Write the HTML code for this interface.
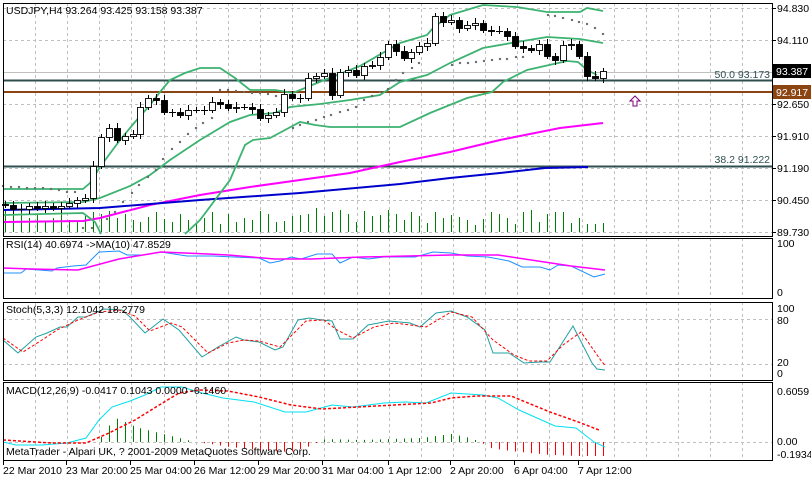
<!DOCTYPE html>
<html><head><meta charset="utf-8"><style>
html,body{margin:0;padding:0;background:#fff;}
svg{display:block;font-family:"Liberation Sans",sans-serif;font-size:10.5px;}
</style></head><body>
<svg id="s" width="811" height="478" xmlns="http://www.w3.org/2000/svg"></svg>
<script>
const s=document.getElementById('s');let H='';
function pl(pts,c,w,d){H+=`<polyline fill="none" stroke="${c}" stroke-width="${w}" ${d?'stroke-dasharray="'+d+'"':''} points="${pts.map(p=>p.join(',')).join(' ')}"/>`;}
function ln(x1,y1,x2,y2,c,w,d){H+=`<line x1="${x1}" y1="${y1}" x2="${x2}" y2="${y2}" stroke="${c}" stroke-width="${w||1}" ${d?'stroke-dasharray="'+d+'"':''}/>`;}
function tx(x,y,t,c,a){H+=`<text x="${x}" y="${y}" fill="${c||'#000'}" ${a?'text-anchor="'+a+'"':''}>${t}</text>`;}
function interp(pts,x){for(let i=0;i<pts.length-1;i++){if(x>=pts[i][0]&&x<=pts[i+1][0]){const t=(x-pts[i][0])/(pts[i+1][0]-pts[i][0]);return pts[i][1]+t*(pts[i+1][1]-pts[i][1]);}}return null;}
const R=772;
const panels=[[3,236],[238,298],[302,380],[382,460]];
for(const [t,b] of panels){for(let k=0;k<23;k++){const x=Math.round(35+32.15*k)+0.5;ln(x,t,x,b,'#c0c0c0',1,'3,3');}}
for(let y=8;y<=232;y+=32){ln(3,y+0.5,R,y+0.5,'#c0c0c0',1,'3,3');}
ln(3,319.5,R,319.5,'#c0c0c0',1,'3,3');ln(3,364.5,R,364.5,'#c0c0c0',1,'3,3');
ln(3,442.5,R,442.5,'#c0c0c0',1,'3,3');
const vol=[210,215,212,218,214,222,218,213,220,222,216,212,214,211,218,214,220,222,217,212,219,222,214,220,224,218,212,224,214,222,218,220,211,214,222,221,216,215,214,208,216,212,210,214,222,211,216,215,210,214,220,212,216,223,212,218,215,217,220,225,219,212,214,218,224,212,210,222,214,212,212,223,218,224,224,223];
const dx=7.97;
for(let i=0;i<vol.length;i++){const x=Math.round(5+i*dx)+0.5;ln(x,232,x,vol[i],'#008000',1);}
ln(3,72.5,R,72.5,'#c0c0c0',1);
ln(3,80.5,R,80.5,'#2f4f4f',2);ln(3,166.5,R,166.5,'#2f4f4f',2);
ln(3,92,R,92,'#8b4513',2);
tx(770,78,'50.0 93.173','#2f4f4f','end');tx(770,163,'38.2 91.222','#2f4f4f','end');
pl([[3,222],[83,221],[100,218],[150,205],[200,195],[250,187],[300,180],[350,173],[400,162],[450,152],[500,140],[560,128],[603,123]],'#ff00ff',2);
pl([[3,210],[100,208],[200,200],[300,193],[400,184],[450,178],[500,173],[545,168],[588,167]],'#0000cd',2);
const bc='#3cb371';
pl([[3,189],[83,189],[90,183],[100,167],[120,140],[135,122],[150,105],[160,92],[170,80],[185,73],[200,68],[220,68],[235,78],[250,90],[275,90],[293,93],[317,83],[360,66],[400,43],[427,35],[433,28],[450,15],[483,5],[517,7],[547,12],[580,12],[587,8],[603,11]],bc,1.8);
pl([[3,203],[83,202],[100,198],[130,186],[150,175],[170,160],[200,140],[230,122],[250,115],[275,113],[290,107],[320,104],[350,100],[380,95],[400,82],[427,75],[450,63],[483,48],[517,42],[547,37],[580,39],[603,43]],bc,1.8);
pl([[3,215],[83,213],[95,222],[101,234]],bc,1.8);
pl([[185,234],[200,220],[230,180],[245,145],[253,140],[270,138],[285,130],[300,122],[315,125],[330,127],[345,127],[400,127],[430,113],[467,98],[492,92],[503,82],[527,70],[567,61],[578,62],[587,70],[597,75]],bc,1.8);
const sar=[[3,186],[11,187],[19,187],[27,188],[35,188],[43,188],[51,189],[59,190],[67,192],[75,192],[83,228],[92,228],[107,219],[115,212],[123,202],[132,193],[139,185],[148,177],[156,170],[163,159],[172,149],[180,142],[188,134],[196,128],[203,123],[212,118],[220,90],[228,90],[236,91],[244,92],[252,93],[260,93],[268,94],[276,96],[284,98],[293,128],[300,125],[308,122],[316,120],[324,117],[331,115],[340,112],[348,110],[356,107],[364,100],[372,96],[380,92],[388,89],[396,80],[403,73],[412,68],[419,63],[452,65],[460,63],[468,63],[476,62],[484,61],[492,60],[500,59],[507,59],[516,57],[523,57],[548,15],[555,16],[563,18],[572,20],[579,22],[587,24],[595,28],[603,34]];
for(const [x,y] of sar)H+=`<rect x="${x-0.8}" y="${y-0.8}" width="1.6" height="1.6" fill="#fff" stroke="#333" stroke-width="0.5"/>`;
const cl=[205,209,209,206,208,206,208,206,203,200,198,166,137,128,140,136,134,107,98,100,112,112,115,110,110,110,102,104,108,107,107,109,118,115,112,94,98,98,78,76,73,95,72,70,75,66,65,57,44,51,58,52,46,43,16,22,20,28,25,23,30,31,31,36,46,48,50,44,56,60,45,44,56,76,78,71];
let prev=204;
for(let i=0;i<cl.length;i++){const x=Math.round(5+i*dx);const o=prev,c=cl[i];const top=Math.min(o,c),bot=Math.max(o,c);
ln(x+0.5,top-3-(i%3),x+0.5,bot+3+(i%2)*2,'#000',1);
if(bot-top<1)ln(x-3,top+0.5,x+4,top+0.5,'#000',1);
else H+=`<rect x="${x-2.5}" y="${top+0.5}" width="6" height="${bot-top}" fill="${c<o?'#fff':'#000'}" stroke="#000" stroke-width="0.9"/>`;
prev=c;}
H+=`<path d="M635 96 L640 101 L637 101 L637 106 L633 106 L633 101 L630 101 Z" fill="#fff" stroke="#800080" stroke-width="1"/>`;
pl([[3,273],[21,273],[26,269],[52,271],[57,268],[73,266],[86,265],[99,252],[119,251],[127,255],[143,255],[161,252],[187,256],[213,256],[234,257],[259,258],[270,263],[280,261],[291,257],[301,259],[317,254],[332,254],[340,263],[353,257],[368,259],[384,257],[415,257],[433,252],[451,253],[467,256],[488,257],[509,261],[522,267],[540,267],[550,270],[558,265],[571,266],[594,277],[605,274]],'#1e90ff',1);
pl([[3,268],[31,269],[78,270],[119,259],[161,252],[208,254],[228,255],[275,259],[311,259],[363,257],[451,255],[498,255],[571,266],[605,270]],'#ff00ff',1.5);
pl([[3,340],[18,353],[36,337],[47,333],[60,327],[67,327],[78,317],[86,317],[104,309],[122,310],[130,317],[145,333],[163,319],[179,330],[202,357],[218,347],[236,337],[244,340],[259,342],[275,350],[283,347],[298,320],[309,318],[322,320],[332,321],[340,339],[353,339],[368,325],[389,321],[410,323],[420,327],[436,313],[451,311],[467,317],[485,330],[493,353],[509,353],[524,363],[540,362],[550,362],[573,326],[592,363],[597,369],[605,370]],'#20a0a0',1);
pl([[3,338],[23,352],[42,340],[57,330],[78,320],[99,312],[119,310],[135,316],[150,331],[171,323],[182,327],[208,353],[228,343],[244,340],[259,341],[280,347],[306,321],[324,320],[337,330],[353,338],[374,327],[394,323],[426,327],[451,312],[472,317],[493,340],[514,355],[529,361],[547,361],[563,345],[581,332],[602,362],[605,365]],'#ff0000',1,'3,2');
const hp=[[90,442],[99,440],[107,428],[115,418],[123,421],[131,425],[139,428],[147,430],[155,432],[163,434],[171,436],[179,438],[187,440],[195,442],[210,444],[230,447],[260,450],[290,452],[310,446],[318,442],[325,439],[360,440],[420,438],[451,434],[470,438],[480,442],[490,448],[510,451],[550,455],[580,456],[605,456]];
for(let i=0;i<cl.length;i++){const x=Math.round(5+i*dx);const y=interp(hp,x);if(y==null||Math.abs(y-442)<1)continue;ln(x+0.5,442,x+0.5,y,y<442?'#008000':'#ff0000',1);}
pl([[3,442],[16,445],[42,445],[67,443],[86,438],[99,420],[112,407],[130,401],[145,395],[161,387],[182,387],[202,393],[223,398],[254,402],[285,412],[306,412],[332,405],[353,407],[384,403],[405,402],[426,403],[451,393],[483,395],[498,398],[519,410],[555,426],[576,428],[594,442],[605,447]],'#00e0f0',1);
pl([[3,440],[52,443],[86,443],[109,433],[135,420],[156,407],[179,393],[200,390],[228,391],[259,397],[291,405],[322,409],[358,407],[431,403],[451,398],[477,396],[511,396],[550,412],[581,423],[599,430]],'#ff0000',1.5,'3,2');
for(const [t,b] of panels)H+=`<rect x="3.5" y="${t+0.5}" width="${R-3}" height="${b-t}" fill="none" stroke="#000" stroke-width="1"/>`;
const pr=[['94.830',8],['94.110',40],['92.650',104],['91.910',136],['91.190',168],['90.450',200],['89.730',232]];
for(const [t,y] of pr){ln(R,y+0.5,R+4,y+0.5,'#000');tx(777,y+4,t);}
H+=`<rect x="773" y="64" width="38" height="14" fill="#000"/>`;tx(776,75,'93.387','#fff');
H+=`<rect x="773" y="85" width="38" height="14" fill="#8b4513"/>`;tx(776,96,'92.917','#fff');
tx(777,247,'100');tx(777,296,'0');
tx(777,312,'100');tx(777,324,'80');tx(777,366,'20');tx(777,377,'0');
tx(777,395,'0.6059');tx(777,445,'0.00');tx(777,458,'-0.1934');
tx(6,14,'USDJPY,H4  93.264 93.425 93.158 93.387');
tx(6,248,'RSI(14) 40.6974  ->MA(10) 47.8529');
tx(6,313,'Stoch(5,3,3) 12.1042 18.2779');
tx(6,394,'MACD(12,26,9) -0.0417 0.1043 0.0000 -0.1460');
tx(6,455,'MetaTrader - Alpari UK, ? 2001-2009 MetaQuotes Software Corp.');
const tl=[['22 Mar 2010',3],['23 Mar 20:00',66],['25 Mar 04:00',130],['26 Mar 12:00',194],['29 Mar 20:00',258],['31 Mar 04:00',322],['1 Apr 12:00',388],['2 Apr 20:00',450],['6 Apr 04:00',514],['7 Apr 12:00',578]];
for(const [t,x] of tl){ln(x+0.5,460,x+0.5,465,'#000');tx(x,474,t);}
s.innerHTML=H;
</script>
</body></html>
